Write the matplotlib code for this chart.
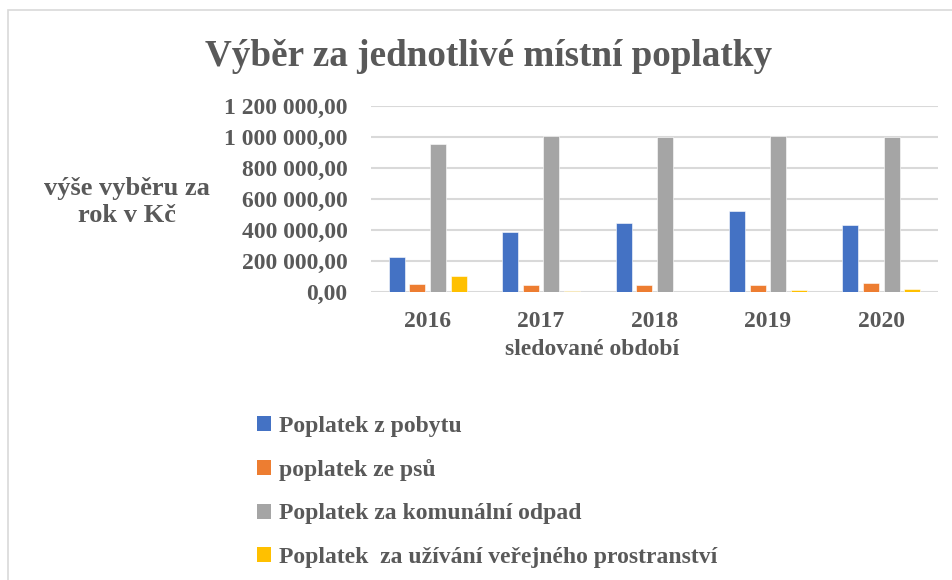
import matplotlib
matplotlib.use("Agg")
import matplotlib.pyplot as plt
import numpy as np
from matplotlib.patches import Patch, Rectangle
from matplotlib.ticker import FuncFormatter

years = ["2016", "2017", "2018", "2019", "2020"]
series_names = ["Poplatek z pobytu", "poplatek ze psů", "Poplatek za komunální odpad",
                "Poplatek  za užívání veřejného prostranství"]
pobyt = [223000, 384000, 445000, 522000, 434000]
psi = [48000, 43000, 44000, 43000, 54000]
odpad = [954000, 1006000, 1001000, 1008000, 997000]
prostranstvi = [100000, 5000, 0, 8000, 17000]
colors = ["#4472C4", "#ED7D31", "#A5A5A5", "#FFC000"]

TXT = "#595959"
plt.rcParams['font.family'] = ['Liberation Serif', 'DejaVu Serif']
plt.rcParams['font.weight'] = 'bold'

W, H = 953, 580
fig = plt.figure(figsize=(W/100, H/100), dpi=100)
ax = fig.add_axes([371/W, 1-291.7/H, (938-371)/W, (291.7-106)/H])

x = np.arange(len(years))
bw = 0.141
step = 0.182
for i, (vals, c) in enumerate(zip([pobyt, psi, odpad, prostranstvi], colors)):
    ax.bar(x + (i-1.5)*step, vals, width=bw, color=c, edgecolor='white', linewidth=0.4, zorder=3)

ax.set_xlim(-0.5, len(years)-0.5)
ax.set_ylim(0, 1200000)
ax.set_yticks(np.arange(0, 1200001, 200000))
def fmt(v, p):
    s = f"{v:,.2f}".replace(",", " ").replace(".", ",")
    return s
ax.yaxis.set_major_formatter(FuncFormatter(fmt))
ax.set_xticks(x)
ax.set_xticklabels(years)
ax.tick_params(axis='both', length=0, colors=TXT, labelsize=17)
ax.tick_params(axis='y', pad=17)
ax.tick_params(axis='x', pad=14)
for lab in ax.get_xticklabels() + ax.get_yticklabels():
    lab.set_fontweight('bold')
for s in ax.spines.values():
    s.set_visible(False)
ax.grid(axis='y', color='#D9D9D9', linewidth=1.5, zorder=0)
ax.set_axisbelow(True)

fig.text(488.5/W, 1-66/H, "Výběr za jednotlivé místní poplatky", ha='center', va='baseline',
         fontsize=26.7, fontweight='bold', color=TXT)
fig.text(127/W, 1-202/H, "výše vyběru za\nrok v Kč", ha='center', va='center',
         fontsize=19, fontweight='bold', color=TXT, linespacing=1.22)
fig.text(592.5/W, 1-355/H, "sledované období", ha='center', va='baseline',
         fontsize=17, fontweight='bold', color=TXT)

handles = [Patch(facecolor=c, edgecolor='none') for c in colors]
leg = fig.legend(handles, series_names, loc='upper left', bbox_to_anchor=(257/W, 1-416/H),
                 frameon=False, fontsize=17, handlelength=0.6, handleheight=0.6,
                 handletextpad=0.35, labelspacing=0.94, borderaxespad=0, borderpad=0)
for t in leg.get_texts():
    t.set_color(TXT)
    t.set_fontweight('bold')

fig.patches.append(Rectangle((8/W, -0.1), 1.2, 1+0.1-10/H, transform=fig.transFigure,
                             fill=False, edgecolor='#D9D9D9', linewidth=1.2))

fig.savefig("out.png", dpi=100, facecolor='white')
